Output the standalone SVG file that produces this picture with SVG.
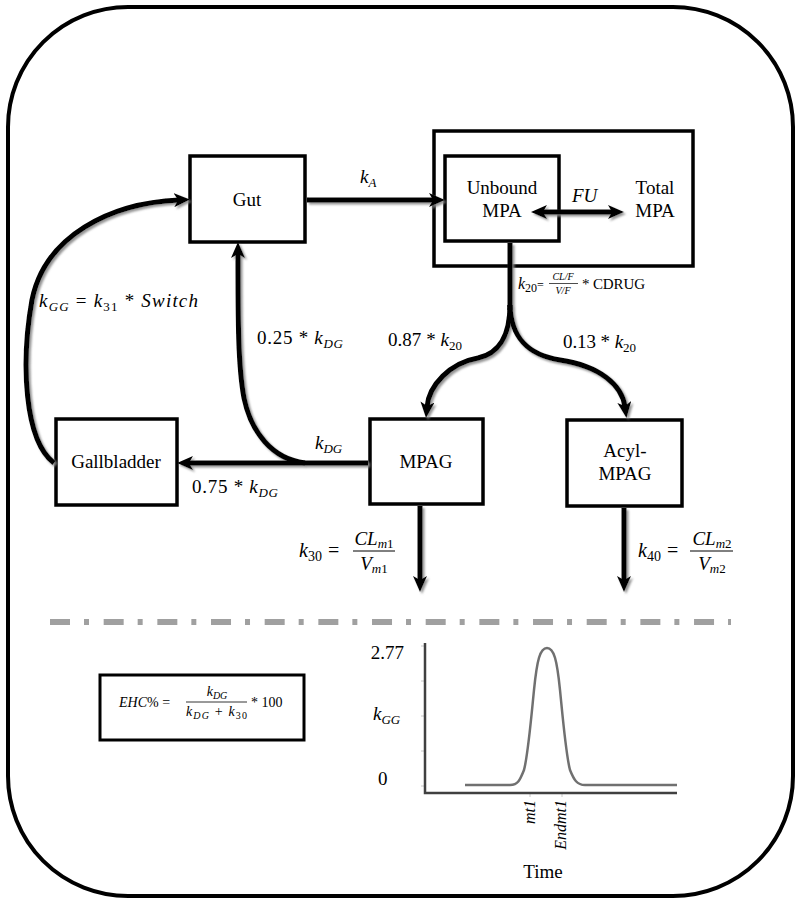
<svg xmlns="http://www.w3.org/2000/svg" width="800" height="903" viewBox="0 0 800 903">
<defs>
<style>
.box{fill:#fff;stroke:#000;stroke-width:3.5}
.s{font-family:"Liberation Serif","Times New Roman",serif;fill:#000}
.i{font-style:italic}
.conn{fill:none;stroke:#000;stroke-width:5}
</style>
<marker id="ah" viewBox="0 0 16 14" markerWidth="16" markerHeight="14" refX="5" refY="7" orient="auto-start-reverse" markerUnits="userSpaceOnUse">
<path d="M0,0 L16,7 L0,14 L4,7 z" fill="#000"/>
</marker>
<filter id="sh" x="-20%" y="-20%" width="140%" height="140%">
<feDropShadow dx="2" dy="2" stdDeviation="0.8" flood-color="#888" flood-opacity="0.9"/>
</filter>
</defs>
<rect x="8" y="7" width="785" height="889" rx="120" ry="120" fill="#fff" stroke="#000" stroke-width="4"/>

<g id="total-mpa"><rect x="434" y="131" width="259" height="135" fill="none" stroke="#000" stroke-width="3.5"/><text class="s" font-size="19" x="655" y="194" text-anchor="middle">Total</text><text class="s" font-size="19" x="655" y="217" text-anchor="middle">MPA</text></g>
<g id="unbound-mpa"><rect class="box" x="445" y="156" width="114" height="85"/><text class="s" font-size="19" x="502" y="194" text-anchor="middle">Unbound</text><text class="s" font-size="19" x="502" y="217" text-anchor="middle">MPA</text></g>
<g id="gut"><rect class="box" x="190" y="156" width="115" height="86"/><text class="s" font-size="19" x="247" y="206" text-anchor="middle">Gut</text></g>
<g id="gallbladder"><rect class="box" x="56" y="419" width="121" height="86"/><text class="s" font-size="19" x="116" y="468" text-anchor="middle">Gallbladder</text></g>
<g id="mpag"><rect class="box" x="370" y="419" width="113" height="85"/><text class="s" font-size="19" x="426" y="468" text-anchor="middle">MPAG</text></g>
<g id="acyl-mpag"><rect class="box" x="567" y="420" width="115" height="86"/><text class="s" font-size="19" x="625" y="457" text-anchor="middle">Acyl-</text><text class="s" font-size="19" x="625" y="480" text-anchor="middle">MPAG</text></g>

<g id="connectors" filter="url(#sh)">
<path class="conn" d="M307,200 H434" stroke-width="6" marker-end="url(#ah)"/>
<path class="conn" d="M542,212 H613" marker-start="url(#ah)" marker-end="url(#ah)"/>
<path class="conn" d="M510,243 V310"/>
<path class="conn" d="M510,305 C510,338 497,354 478,358 C450,363 429,385 427,407" marker-end="url(#ah)"/>
<path class="conn" d="M510,305 C511,338 528,355 560,360 C600,366 622,385 625,407" marker-end="url(#ah)"/>
<path class="conn" d="M368,463 H188" marker-end="url(#ah)"/>
<path class="conn" d="M305,463 C272,459 251,432 244,398 C238,366 238,320 238,253" marker-end="url(#ah)"/>
<path class="conn" d="M54,463 C24,440 21,362 32,300 C45,236 110,203 179,200" marker-end="url(#ah)"/>
<path class="conn" d="M420,506 V581" marker-end="url(#ah)"/>
<path class="conn" d="M624,508 V581" marker-end="url(#ah)"/>
</g>

<g id="labels">
<text class="s" font-size="19" x="360" y="183"><tspan class="i">k</tspan><tspan class="i" font-size="13" dy="4">A</tspan></text>
<text class="s i" font-size="19" x="572" y="202">FU</text>
<text class="s" font-size="16" x="518" y="289"><tspan class="i">k</tspan><tspan font-size="12" dy="3">20</tspan><tspan font-size="12" dy="-3">=</tspan></text>
<text class="s i" font-size="10" x="563" y="280" text-anchor="middle">CL/F</text>
<line x1="549" y1="283.5" x2="578" y2="283.5" stroke="#000" stroke-width="0.7"/>
<text class="s i" font-size="10" x="563" y="294" text-anchor="middle">V/F</text>
<text class="s" font-size="15" x="582" y="289" textLength="63" lengthAdjust="spacing">* CDRUG</text>
<text class="s" font-size="19" x="39" y="307" textLength="159" lengthAdjust="spacing"><tspan class="i">k</tspan><tspan class="i" font-size="13" dy="4">GG</tspan><tspan dy="-4"> = </tspan><tspan class="i">k</tspan><tspan font-size="13" dy="4">31</tspan><tspan dy="-4"> * </tspan><tspan class="i">Switch</tspan></text>
<text class="s" font-size="19" x="257" y="344" textLength="86" lengthAdjust="spacing">0.25 *  <tspan class="i">k</tspan><tspan class="i" font-size="13" dy="4">DG</tspan></text>
<text class="s" font-size="19" x="388" y="346" textLength="74" lengthAdjust="spacing">0.87 * <tspan class="i">k</tspan><tspan font-size="13" dy="4">20</tspan></text>
<text class="s" font-size="19" x="563" y="348" textLength="73" lengthAdjust="spacing">0.13 * <tspan class="i">k</tspan><tspan font-size="13" dy="4">20</tspan></text>
<text class="s" font-size="19" x="315" y="449"><tspan class="i">k</tspan><tspan class="i" font-size="13" dy="4">DG</tspan></text>
<text class="s" font-size="19" x="192" y="493" textLength="86" lengthAdjust="spacing">0.75 *  <tspan class="i">k</tspan><tspan class="i" font-size="13" dy="4">DG</tspan></text>
<text class="s" font-size="20" x="299" y="557"><tspan class="i">k</tspan><tspan font-size="14" dy="4">30</tspan><tspan dy="-4" dx="6">=</tspan></text>
<text class="s" font-size="19" x="374" y="545" text-anchor="middle"><tspan class="i">CL</tspan><tspan class="i" font-size="13" dy="3">m</tspan><tspan font-size="13">1</tspan></text>
<line x1="353" y1="551" x2="395" y2="551" stroke="#000" stroke-width="1"/>
<text class="s" font-size="19" x="374" y="570" text-anchor="middle"><tspan class="i">V</tspan><tspan class="i" font-size="13" dy="3">m</tspan><tspan font-size="13">1</tspan></text>
<text class="s" font-size="20" x="638" y="557"><tspan class="i">k</tspan><tspan font-size="14" dy="4">40</tspan><tspan dy="-4" dx="6">=</tspan></text>
<text class="s" font-size="19" x="712" y="545" text-anchor="middle"><tspan class="i">CL</tspan><tspan class="i" font-size="13" dy="3">m</tspan><tspan font-size="13">2</tspan></text>
<line x1="690" y1="551" x2="733" y2="551" stroke="#000" stroke-width="1"/>
<text class="s" font-size="19" x="712" y="570" text-anchor="middle"><tspan class="i">V</tspan><tspan class="i" font-size="13" dy="3">m</tspan><tspan font-size="13">2</tspan></text>
</g>

<line x1="50" y1="622" x2="731" y2="622" stroke="#a0a0a0" stroke-width="6" stroke-dasharray="20 14 5 14.67"/>

<g id="ehc">
<rect x="100" y="675" width="204" height="65" fill="#fff" stroke="#000" stroke-width="3"/>
<text class="s" font-size="14" x="119" y="707"><tspan class="i">EHC</tspan>% =</text>
<text class="s" font-size="14" x="217" y="696" text-anchor="middle"><tspan class="i">k</tspan><tspan class="i" font-size="10" dy="3">DG</tspan></text>
<line x1="186" y1="702" x2="247" y2="702" stroke="#000" stroke-width="0.8"/>
<text class="s" font-size="14" x="186" y="716" textLength="61" lengthAdjust="spacing"><tspan class="i">k</tspan><tspan class="i" font-size="10" dy="3">DG</tspan><tspan dy="-3"> + </tspan><tspan class="i">k</tspan><tspan font-size="10" dy="3">30</tspan></text>
<text class="s" font-size="14" x="251" y="707">* 100</text>
</g>

<g id="plot">
<g stroke="#c8c8c8" stroke-width="1">
<line x1="421" y1="646" x2="425" y2="646"/><line x1="421" y1="681" x2="425" y2="681"/><line x1="421" y1="716" x2="425" y2="716"/><line x1="421" y1="751" x2="425" y2="751"/><line x1="421" y1="786" x2="425" y2="786"/>
<line x1="530" y1="793" x2="530" y2="797"/><line x1="562" y1="793" x2="562" y2="797"/>
</g>
<path d="M425,643 V793 H677" fill="none" stroke="#404040" stroke-width="2.5"/>
<path d="M465,785 H510 C518,785 520,780 524,770 C528,755 531,720 534,690 C537,660 540,648 547,648 C554,648 557,660 560,690 C563,720 566,755 570,770 C574,780 577,785 585,785 H677" fill="none" stroke="#707070" stroke-width="2.5"/>
<text class="s" font-size="19" x="404" y="659" text-anchor="end">2.77</text>
<text class="s" font-size="19" x="373" y="720"><tspan class="i">k</tspan><tspan class="i" font-size="13" dy="4">GG</tspan></text>
<text class="s" font-size="19" x="378" y="785">0</text>
<text class="s i" font-size="16" transform="translate(535,800) rotate(-90)" text-anchor="end">mt1</text>
<text class="s i" font-size="16" transform="translate(566,800) rotate(-90)" text-anchor="end">Endmt1</text>
<text class="s" font-size="19" x="543" y="878" text-anchor="middle">Time</text>
</g>
</svg>
